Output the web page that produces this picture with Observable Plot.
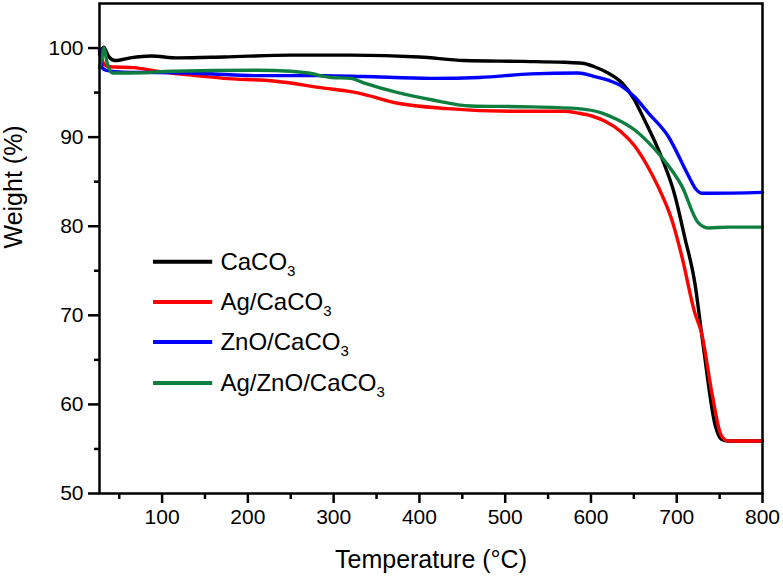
<!DOCTYPE html>
<html>
<head>
<meta charset="utf-8">
<script src="https://cdn.jsdelivr.net/npm/d3@7"></script>
<script src="https://cdn.jsdelivr.net/npm/@observablehq/plot@0.6"></script>
<style>
  html, body { margin: 0; padding: 0; background: #fff; }
  svg { display: block; }
</style>
</head>
<body>
<div id="chart"></div>
<script>
// ---- data ----
const seriesNames = ["CaCO3", "Ag/CaCO3", "ZnO/CaCO3", "Ag/ZnO/CaCO3"];
const seriesColors = ["#000000", "#ff0000", "#0000ff", "#0f7f3f"];

const caco3T = [27, 30, 32, 35, 38, 45, 63, 87, 118, 172, 250, 320, 400, 452, 520, 569, 590, 604, 620, 636, 650, 662, 682, 698, 709, 721, 731, 745, 752, 760, 780, 800];
const caco3W = [99.3, 99.9, 100.1, 99.6, 99.0, 98.6, 98.9, 99.1, 98.9, 99.0, 99.2, 99.2, 99.0, 98.6, 98.5, 98.4, 98.3, 97.9, 97.2, 96.1, 94.3, 92.0, 87.8, 83.4, 78.9, 73.7, 66.5, 57.6, 56.1, 55.9, 55.9, 55.9];

const agT = [27, 29, 31, 35, 40, 67, 94, 130, 172, 230, 289, 320, 335, 375, 433, 511, 569, 585, 600, 616, 635, 651, 665, 678, 694, 706, 721, 729, 741, 752, 760, 780, 800];
const agW = [99.6, 99.2, 98.4, 98.0, 97.9, 97.8, 97.4, 97.0, 96.6, 96.3, 95.5, 95.1, 94.8, 93.8, 93.2, 92.9, 92.9, 92.7, 92.4, 91.8, 90.6, 89.0, 86.9, 84.5, 80.8, 76.6, 70.3, 68.0, 61.3, 56.5, 55.9, 55.9, 55.9];

const znoT = [27, 28, 30, 35, 55, 133, 211, 289, 335, 414, 470, 530, 585, 604, 620, 636, 651, 667, 690, 714, 722, 729, 740, 800];
const znoW = [99.8, 99.9, 97.8, 97.5, 97.3, 97.2, 96.9, 96.9, 96.8, 96.6, 96.7, 97.1, 97.2, 96.8, 96.4, 95.7, 94.5, 92.7, 90.1, 85.6, 84.2, 83.7, 83.7, 83.8];

const agznoT = [27, 30, 32, 36, 42, 63, 113, 211, 250, 270, 297, 320, 335, 375, 414, 460, 530, 585, 613, 630, 651, 666, 682, 706, 725, 737, 760, 800];
const agznoW = [97.8, 99.0, 100.0, 98.3, 97.2, 97.2, 97.4, 97.5, 97.4, 97.2, 96.7, 96.6, 96.1, 95.0, 94.2, 93.5, 93.4, 93.2, 92.7, 92.0, 90.8, 89.5, 87.8, 84.5, 80.4, 79.8, 79.9, 79.9];

const xMajorTicks = [100, 200, 300, 400, 500, 600, 700, 800];
const xMinorTicks = [50, 150, 250, 350, 450, 550, 650, 750];
const yMajorTicks = [50, 60, 70, 80, 90, 100];
const yMinorTicks = [55, 65, 75, 85, 95];

const legendY = [76.0, 71.5, 67.0, 62.4];
const legendX1 = 90, legendX2 = 159, legendTextX = 168;

// ---- build table ----
const seriesT = [caco3T, agT, znoT, agznoT];
const seriesW = [caco3W, agW, znoW, agznoW];
const rows = [];
seriesNames.forEach((name, i) => {
  seriesT[i].forEach((t, j) => rows.push({series: name, T: t, W: seriesW[i][j]}));
});
const legendRows = seriesNames.map((name, i) => ({series: name, y: legendY[i]}));

const color = {domain: seriesNames, range: seriesColors};

const chart = Plot.plot({
  width: 783,
  height: 576,
  marginTop: 3,
  marginRight: 21,
  marginBottom: 83,
  marginLeft: 99,
  style: {fontFamily: "'Liberation Sans', Arial, sans-serif", background: "#fff", color: "#000"},
  x: {domain: [27, 800]},
  y: {domain: [50, 105]},
  color,
  marks: [
    Plot.axisX({ticks: xMajorTicks, tickSize: 10, tickPadding: 6, strokeWidth: 2.5, fontSize: 21, label: null, tickFormat: d => String(d)}),
    Plot.axisX({ticks: xMinorTicks, tickSize: 6, strokeWidth: 2.5, text: null, label: null}),
    Plot.axisY({ticks: yMajorTicks, tickSize: 11, tickPadding: 5, strokeWidth: 2.5, fontSize: 21, label: null, tickFormat: d => String(d)}),
    Plot.axisY({ticks: yMinorTicks, tickSize: 5, strokeWidth: 2.5, text: null, label: null}),
    Plot.line(rows, {x: "T", y: "W", z: "series", stroke: "series", strokeWidth: 3.4, curve: "monotone-x"}),
    Plot.ruleY(legendRows, {y: "y", x1: legendX1, x2: legendX2, stroke: "series", strokeWidth: 4}),
    Plot.text(legendRows, {x: legendTextX, y: "y", text: "series", textAnchor: "start", fontSize: 24, fill: "#000"}),
    Plot.frame({stroke: "#000", strokeWidth: 2.5}),
    Plot.text(["Temperature (°C)"], {frameAnchor: "bottom", dy: 74, lineAnchor: "bottom", fontSize: 25, fill: "#000"}),
    Plot.text(["Weight (%)"], {frameAnchor: "left", dx: -86, rotate: -90, fontSize: 25, fill: "#000"})
  ]
});

// subscript the 3 in the legend formulas
d3.select(chart).selectAll("text").each(function() {
  const el = d3.select(this);
  const s = el.text();
  if (seriesNames.includes(s) && s.endsWith("3")) {
    el.text(null);
    el.append("tspan").text(s.slice(0, -1));
    el.append("tspan").attr("dy", "0.45em").attr("font-size", 15).text("3");
  }
});

document.getElementById("chart").appendChild(chart);
</script>
</body>
</html>
